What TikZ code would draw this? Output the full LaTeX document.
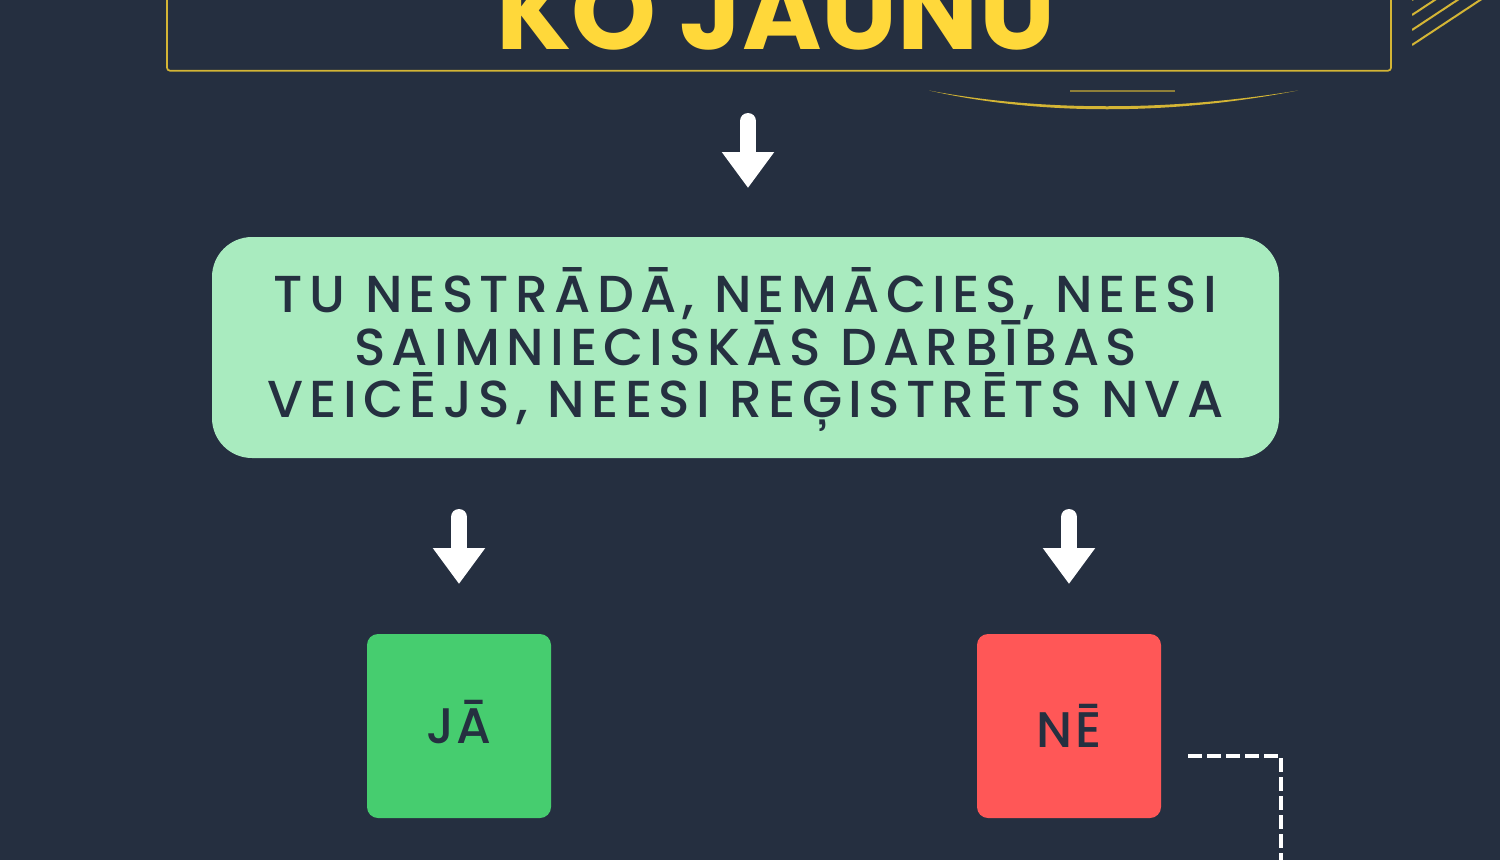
\documentclass[tikz,border=0pt]{standalone}
\usepackage{fontspec}
\usetikzlibrary{arrows.meta}
\newfontfamily\titlefont{Poppins}
\newfontfamily\bodyfont{Poppins Medium}[LetterSpace=12]
\newfontfamily\btnfont{Poppins Medium}[LetterSpace=5]
\definecolor{bg}{HTML}{252F40}
\definecolor{ink}{HTML}{253040}
\definecolor{mint}{HTML}{A9EBBF}
\definecolor{yesgreen}{HTML}{46CD6F}
\definecolor{nored}{HTML}{FF5757}
\definecolor{gold}{HTML}{FFD83A}
\definecolor{goldline}{HTML}{D4B535}
\tikzset{
  bigarrow/.style={draw=white, line width=16pt, line cap=round,
    -{Triangle[width=50pt,length=36pt]}},
  mintbox/.style={fill=mint, rounded corners=40pt, minimum width=1067pt,
    minimum height=221pt, inner sep=0pt, align=center, text=ink,
    font=\bodyfont\fontsize{52}{52.5}\selectfont,
    text height=140pt, text depth=0pt},
  choicebox/.style={rounded corners=11pt, minimum width=184pt,
    minimum height=184pt, inner sep=0pt, text=ink,
    font=\btnfont\fontsize{50}{52}\selectfont, text depth=0pt},
  dashline/.style={draw=white, line width=3.2pt, dash pattern=on 14pt off 5pt},
  hatch/.style={draw=goldline, line width=2pt},
}
\begin{document}
\begin{tikzpicture}[x=1pt,y=-1pt]
\useasboundingbox (0,0) rectangle (1500,860);
\clip (0,0) rectangle (1500,860);
\fill[bg] (0,0) rectangle (1500,860);

% title frame
\node[draw=goldline, line width=1.7pt, rounded corners=3pt, minimum width=1224pt,
  minimum height=200pt, inner sep=0pt] (frame) at (779,-29.3) {};
\node[anchor=base, text=gold, inner sep=0pt,
  font=\titlefont\bfseries\fontsize{108}{110}\selectfont] (title) at (776,49) {KO JAUNU};

% hatch lines
\begin{scope}
  \clip (1412,-5) rectangle (1500,60);
  \foreach \y in {0,15,30,45} {
    \draw[hatch] (1412,\y) -- ++(90,-59.4);
  }
\end{scope}

% underline swoosh
\fill[goldline] (929,90.5) .. controls (1040,115.5) and (1170,115.5) .. (1298,90.5)
  .. controls (1170,111.5) and (1040,111.5) .. cycle;
\draw[goldline, opacity=0.6, line width=1.4pt] (1070,91) -- (1175,91);

% question box
\node[mintbox] (q) at (745.5,347.5)
  {TU NESTRĀDĀ, NEMĀCIES, NEESI\\SAIMNIECISKĀS DARBĪBAS\\VEICĒJS, NEESI REĢISTRĒTS NVA};

% choice boxes
\node[choicebox, fill=yesgreen, text height=35pt] (yes) at (459,726) {JĀ};
\node[choicebox, fill=nored, text height=42pt] (no) at (1069,726) {NĒ};

% arrows
\coordinate (a0s) at (748,121);
\coordinate (a0e) at (748,188);
\coordinate (a1s) at (459,517);
\coordinate (a1e) at (459,584);
\coordinate (a2s) at (1069,517);
\coordinate (a2e) at (1069,584);
\draw[bigarrow] (a0s) -- (a0e);
\draw[bigarrow] (a1s) -- (a1e);
\draw[bigarrow] (a2s) -- (a2e);

% dashed continuation
\coordinate (offpage) at (1281,880);
\draw[dashline] ([xshift=27pt,yshift=-30pt]no.east) -| (offpage);
\end{tikzpicture}
\end{document}
